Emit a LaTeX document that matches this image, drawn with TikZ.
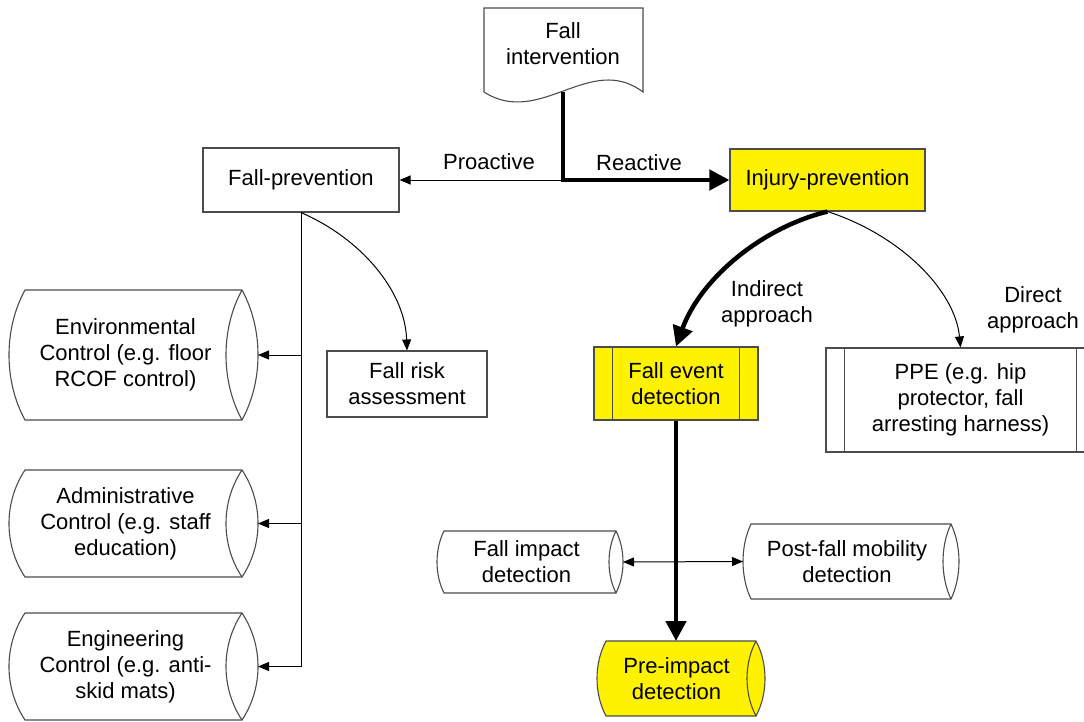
\documentclass[tikz,border=0pt]{standalone}
\usepackage{fontspec}
\setmainfont{Liberation Sans}
\usetikzlibrary{arrows.meta}

% Data-store shape: flat top/bottom, shallow lens-like ends; the right end shows both arcs.
% #1 name, #2 left corner x, #3 right corner x, #4 top y, #5 bottom y, #6 end bulge, #7 fill, #8 text
\newcommand{\datastore}[8]{%
  \filldraw[outline,fill=#7] (#2,-#4) -- (#3,-#4)
    .. controls ({#3+4*#6/3},{-#4-0.3*(#5-#4)}) and ({#3+4*#6/3},{-#5+0.3*(#5-#4)}) .. (#3,-#5)
    -- (#2,-#5)
    .. controls ({#2-4*#6/3},{-#5+0.3*(#5-#4)}) and ({#2-4*#6/3},{-#4-0.3*(#5-#4)}) .. (#2,-#4) -- cycle;
  \draw[outline] (#3,-#4)
    .. controls ({#3-4*#6/3},{-#4-0.3*(#5-#4)}) and ({#3-4*#6/3},{-#5+0.3*(#5-#4)}) .. (#3,-#5);
  \node[txt] (#1) at ({(#2-#6+#3)/2},{-(#4+#5)/2}) {#8};
  \coordinate (#1-e) at ({#3+#6},{-(#4+#5)/2});
  \coordinate (#1-w) at ({#2-#6},{-(#4+#5)/2});
  \coordinate (#1-n) at ({(#2-#6+#3)/2},-#4);
}

\begin{document}
\begin{tikzpicture}[x=1pt,y=1pt,
  txt/.style={align=center,font=\fontsize{22}{26}\selectfont,inner sep=0pt},
  outline/.style={draw=black!70,line width=1.1pt},
  boxnode/.style={txt,outline,rectangle,fill=white},
  hilite/.style={fill=yellow},
  thinarr/.style={draw=black,line width=1pt,-{Triangle[length=11pt,width=9pt]}},
  thinboth/.style={draw=black,line width=1pt,{Triangle[length=11pt,width=9pt]}-{Triangle[length=11pt,width=9pt]}},
  thickarr/.style={draw=black,line width=4.5pt,-{Triangle[length=20pt,width=20pt]}},
]
\clip (0,0) rectangle (1084,-721);

% document shape at the top
\filldraw[outline,fill=white] (484,-8) -- (643,-8) -- (643,-92)
  .. controls (590,-52) and (540,-128) .. (484,-92) -- cycle;
\node[txt] (fi) at (563,-44) {Fall\\intervention};
\coordinate (fi-b) at (563,-92);

% process boxes
\node[boxnode,minimum width=196pt,minimum height=64pt] (fp) at (301,-180) {Fall-prevention};
\node[boxnode,hilite,minimum width=195pt,minimum height=62pt] (ip) at (827.5,-180) {Injury-prevention};
\node[boxnode,minimum width=160pt,minimum height=66pt] (fra) at (407,-384) {Fall risk\\assessment};

% predefined-process boxes
\node[boxnode,hilite,minimum width=164pt,minimum height=73pt] (fe) at (676,-383.5) {Fall event\\detection};
\draw[outline] ([xshift=19pt]fe.north west) -- ([xshift=19pt]fe.south west)
               ([xshift=-19pt]fe.north east) -- ([xshift=-19pt]fe.south east);
\node[boxnode,minimum width=269pt,minimum height=104pt] (ppe) at (960.5,-400) {PPE (e.g. hip\\protector, fall\\arresting harness)};
\draw[outline] ([xshift=19pt]ppe.north west) -- ([xshift=19pt]ppe.south west)
               ([xshift=-19pt]ppe.north east) -- ([xshift=-19pt]ppe.south east);

% data-store shapes
\datastore{env}{25}{242}{290}{420}{16}{white}{Environmental\\Control (e.g. floor\\RCOF control)}
\datastore{adm}{25}{242}{470}{577}{16}{white}{Administrative\\Control (e.g. staff\\education)}
\datastore{eng}{25}{242}{613}{720}{16}{white}{Engineering\\Control (e.g. anti-\\skid mats)}
\datastore{fimp}{444}{616}{531}{593}{7}{white}{Fall impact\\detection}
\datastore{post}{751}{951}{524}{599}{8}{white}{Post-fall mobility\\detection}
\datastore{pre}{606}{756}{641}{716}{9}{yellow}{Pre-impact\\detection}

% connectors
\draw[thinarr] (fi-b) |- (fp.east);
\draw[thickarr] (fi-b) |- (ip.west);
\draw[thinarr] (fp.south) |- (env-e);
\draw[thinarr] (fp.south) |- (adm-e);
\draw[thinarr] (fp.south) |- (eng-e);
\draw[thinarr] (fp.south) .. controls (360,-238) and (405,-290) .. (fra.north);
\draw[thickarr] (ip.south) .. controls (760,-228) and (700,-280) .. (fe.north);
\draw[thinarr] (ip.south) .. controls (900,-235) and (955,-290) .. (ppe.north);
\draw[thinboth] (fimp-e) -- (post-w);
\draw[thickarr] (fe.south) -- (fe.south |- pre-n);

% connector labels
\node[txt] (lpro) at (489,-162) {Proactive};
\node[txt] (lrea) at (639,-163) {Reactive};
\node[txt] (lind) at (767,-303.5) {Indirect\\approach};
\node[txt] (ldir) at (1033,-310) {Direct\\approach};
\end{tikzpicture}
\end{document}
